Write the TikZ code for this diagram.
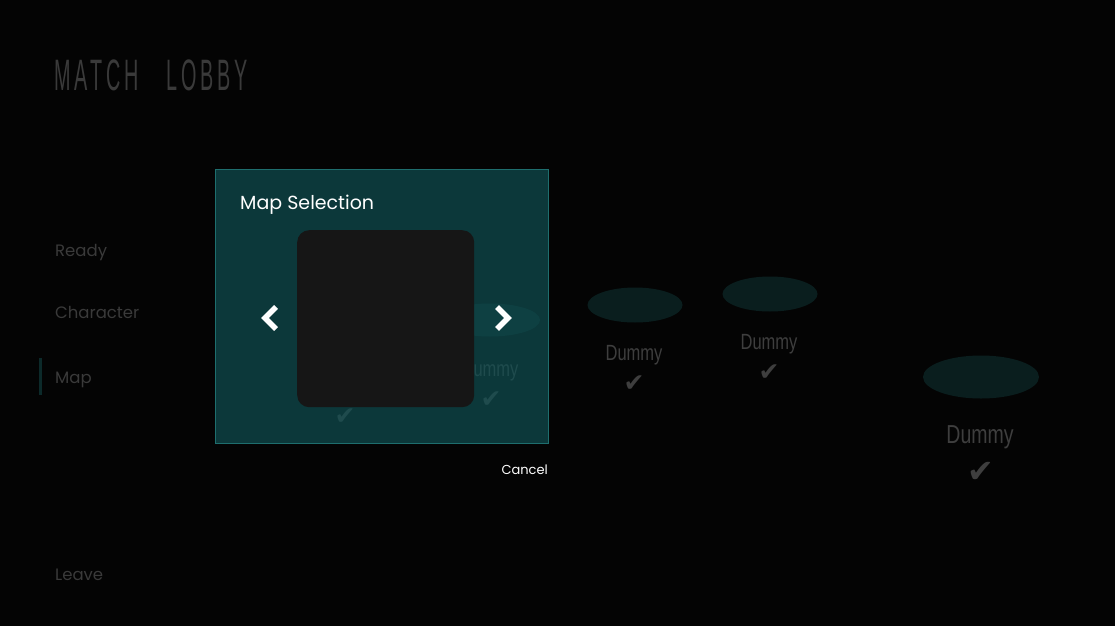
\documentclass[tikz,border=0pt]{standalone}
\usepackage{fontspec}
\usetikzlibrary{shapes.geometric}
\setmainfont{Poppins}
\newfontfamily\titlefont[FakeStretch=0.45,LetterSpace=9]{Liberation Sans}
\newfontfamily\dummyfont[FakeStretch=0.75]{Liberation Sans}
\newfontfamily\symfont{DejaVu Sans}
\definecolor{bgc}{HTML}{040404}
\definecolor{menugrey}{HTML}{3A3A3A}
\definecolor{titlegrey}{HTML}{3A3A3A}
\definecolor{dummygrey}{HTML}{3E3E3E}
\definecolor{ellc}{HTML}{0A1E1E}
\definecolor{dlgfill}{HTML}{105255}
\definecolor{dlgline}{HTML}{1E6E6E}
\definecolor{mapbox}{HTML}{161616}
\definecolor{barc}{HTML}{0C2A2A}
\tikzset{
  titletext/.style={anchor=base west, inner sep=0pt, text=titlegrey, font=\titlefont\fontsize{44}{46}\selectfont},
  menu/.style={anchor=base west, inner sep=0pt, text=menugrey, font=\fontsize{16.5}{20}\selectfont},
  dummy/.style={anchor=base, inner sep=0pt, text=dummygrey, font=\dummyfont\fontsize{22}{24}\selectfont},
  bigdummy/.style={anchor=base, inner sep=0pt, text=dummygrey, font=\dummyfont\fontsize{26}{28}\selectfont},
  check/.style={inner sep=0pt, text=dummygrey, font=\symfont\fontsize{25}{28}\selectfont},
  bigcheck/.style={inner sep=0pt, text=dummygrey, font=\symfont\fontsize{32}{34}\selectfont},
  seat/.style={ellipse, fill=ellc, inner sep=0pt},
  chevron/.style={draw=white, line width=5.5pt, miter limit=10},
}
\begin{document}
\begin{tikzpicture}[x=1pt,y=-1pt]
\fill[bgc] (0,0) rectangle (1115,626);
\useasboundingbox (0,0) rectangle (1115,626);
% title
\node[titletext] (title1) at (54,90) {MATCH};
\node[titletext] (title2) at (166,90) {LOBBY};
% menu
\node[menu] (ready) at (55,256) {Ready};
\node[menu] (character) at (55,318) {Character};
\node[menu] (map) at (55,383) {Map};
\node[menu] (leave) at (55,580) {Leave};
\fill[barc] (39,358) rectangle (41.5,395);
% seats
\node[seat, minimum width=95pt, minimum height=35pt] (s1) at (635,305) {};
\node[dummy] (d1) at (634,360) {Dummy};
\node[check] (c1) at (634,384) {✔};
\node[seat, minimum width=95pt, minimum height=35pt] (s2) at (770,294) {};
\node[dummy] (d2) at (769,349) {Dummy};
\node[check] (c2) at (769,373) {✔};
\node[seat, minimum width=116pt, minimum height=43pt] (s3) at (981,377) {};
\node[bigdummy] (d3) at (980,443) {Dummy};
\node[bigcheck] (c3) at (981,472) {✔};
\node[seat, minimum width=100pt, minimum height=33pt] (s4) at (490,320) {};
\node[dummy] (d4) at (490,376) {Dummy};
\node[check] (c4) at (491,400) {✔};
\node[check] (c5) at (345,417) {✔};
% dialog
\node[draw=dlgline, line width=1pt, fill=dlgfill, fill opacity=0.67, draw opacity=1, minimum width=333pt, minimum height=274pt, inner sep=0pt, anchor=north west] (dlg) at (214.5,168.5) {};
\node[anchor=base west, inner sep=0pt, text=white, font=\fontsize{19}{22}\selectfont] (dtitle) at (240,209) {Map Selection};
\node[fill=mapbox, rounded corners=12pt, minimum width=177pt, minimum height=177pt, inner sep=0pt, anchor=north west] (mapimg) at (297,230) {};
\coordinate (lt) at (276,307);
\coordinate (lm) at (265,318);
\coordinate (lb) at (276,329);
\draw[chevron] (lt) -- (lm) -- (lb);
\coordinate (rt) at (497,307);
\coordinate (rm) at (508,318);
\coordinate (rb) at (497,329);
\draw[chevron] (rt) -- (rm) -- (rb);
\node[anchor=base east, inner sep=0pt, text=white, font=\fontsize{13}{15}\selectfont] (cancel) at (548,474) {Cancel};
\end{tikzpicture}
\end{document}
